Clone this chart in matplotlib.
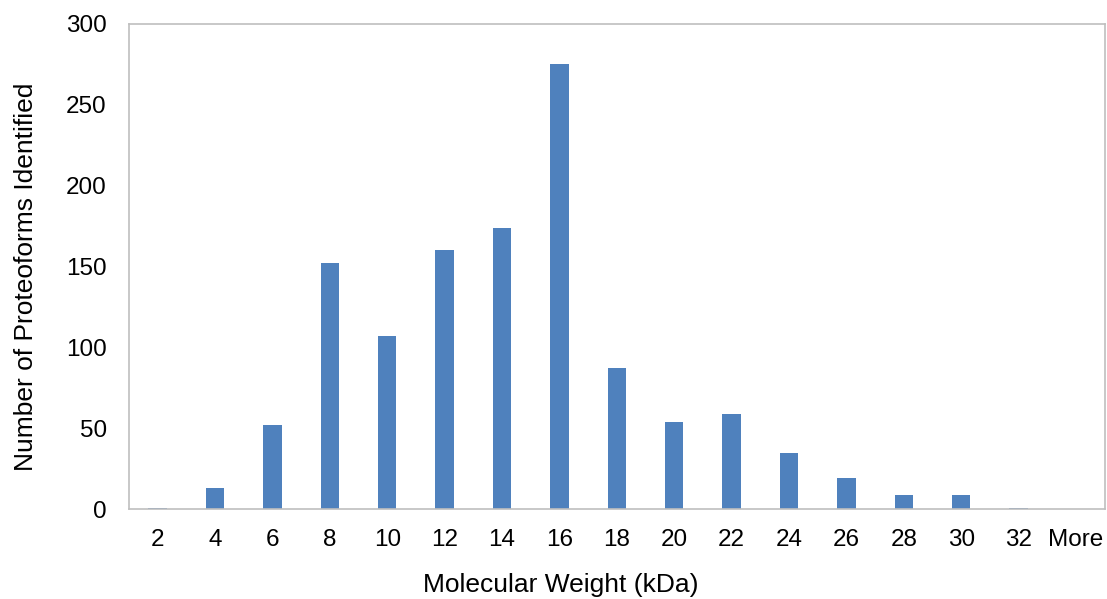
import matplotlib.pyplot as plt

categories = ['2', '4', '6', '8', '10', '12', '14', '16', '18', '20', '22',
              '24', '26', '28', '30', '32', 'More']
counts = [1, 13, 52, 152, 107, 160, 174, 275, 87, 54, 59, 35, 19, 9, 9, 1, 0]

plt.rcParams['font.family'] = ['Liberation Sans', 'DejaVu Sans']

fig = plt.figure(figsize=(11.07, 5.99), dpi=100)
ax = fig.add_axes([0.1165, 0.150, 0.8815, 0.810])

x = range(len(categories))
ax.bar(x, counts, width=0.32, color='#4F81BD')

ax.set_xlim(-0.5, len(categories) - 0.5)
ax.set_ylim(0, 300)
ax.set_yticks(range(0, 301, 50))
ax.set_xticks(list(x))
ax.set_xticklabels(categories)
ax.tick_params(axis='both', length=0, labelsize=17.5)
ax.tick_params(axis='x', pad=14)
ax.tick_params(axis='y', pad=16)

for s in ax.spines.values():
    s.set_color('#BFBFBF')
    s.set_linewidth(1.2)

ax.set_xlabel('Molecular Weight (kDa)', fontsize=19, labelpad=16, x=0.442)
ax.set_ylabel('Number of Proteoforms Identified', fontsize=19, labelpad=20, y=0.478)

plt.savefig('out.png', dpi=100)
